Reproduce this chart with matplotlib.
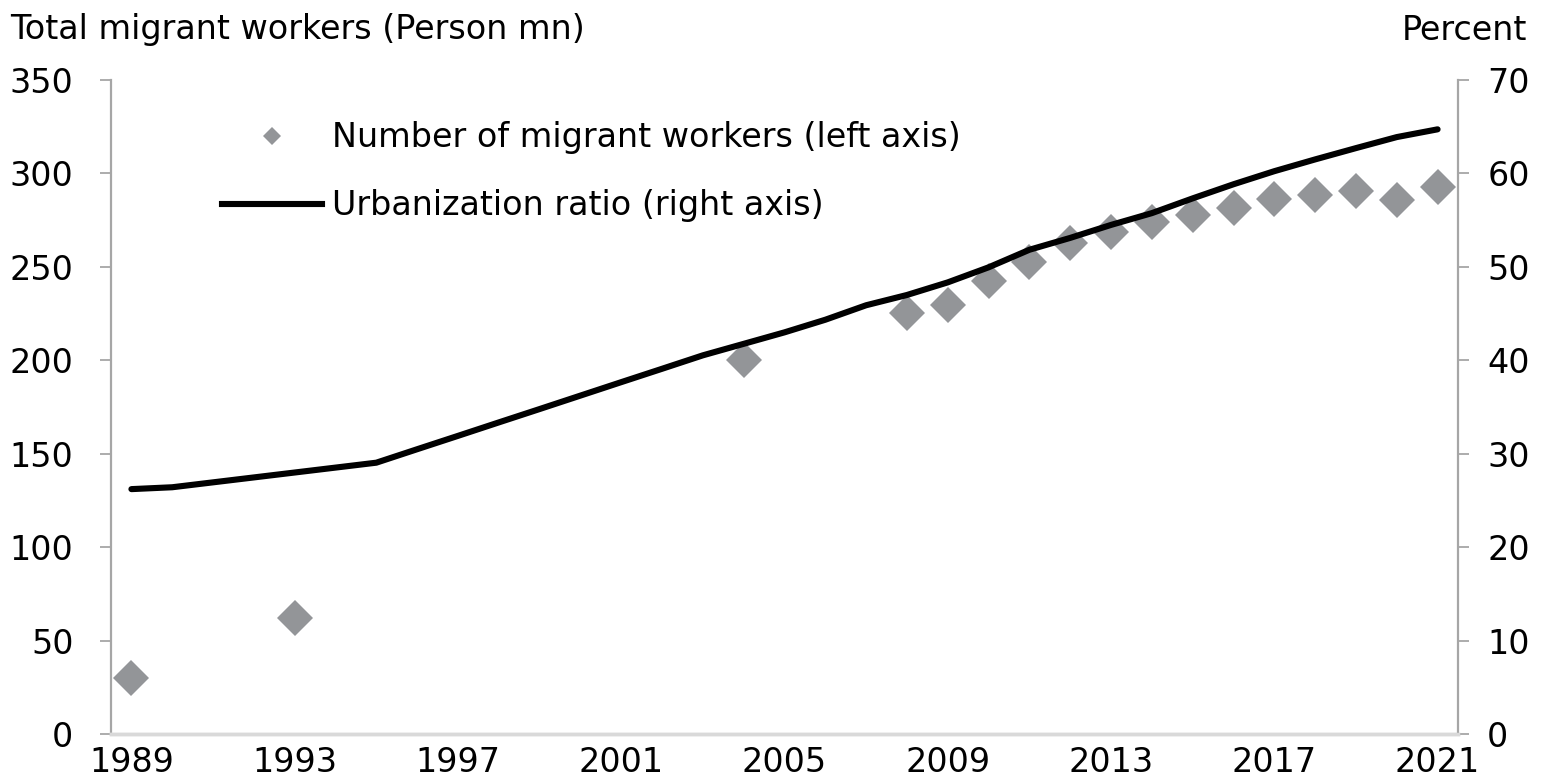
"""Migrant workers vs urbanization ratio, dual axis chart"""

import matplotlib
matplotlib.use("Agg")
import matplotlib.pyplot as plt
from matplotlib.lines import Line2D

plt.rcParams["font.family"] = ["DejaVu Sans"]

# migrant workers (left axis, person mn)
worker_years = [1989, 1993, 2004, 2008, 2009, 2010, 2011, 2012, 2013,
                2014, 2015, 2016, 2017, 2018, 2019, 2020, 2021]
workers = [30, 62, 200, 225.4, 229.8, 242.2, 252.8, 262.6, 268.9,
           274.0, 277.5, 281.7, 286.5, 288.4, 290.8, 285.6, 292.5]

# urbanization ratio (right axis, percent)
urban_years = [1989, 1990, 1995, 1996, 1997, 1998, 1999, 2000, 2001, 2002,
               2003, 2004, 2005, 2006, 2007, 2008, 2009, 2010, 2011, 2012,
               2013, 2014, 2015, 2016, 2017, 2018, 2019, 2020, 2021]
urban_ratio = [26.21, 26.41, 29.04, 30.48, 31.91, 33.35, 34.78, 36.22, 37.66,
               39.09, 40.53, 41.76, 42.99, 44.34, 45.89, 46.99, 48.34, 49.95,
               51.83, 53.10, 54.49, 55.75, 57.33, 58.84, 60.24, 61.50, 62.71,
               63.89, 64.72]

x_ticks = [1989, 1993, 1997, 2001, 2005, 2009, 2013, 2017, 2021]
left_ticks = [0, 50, 100, 150, 200, 250, 300, 350]
right_ticks = [0, 10, 20, 30, 40, 50, 60, 70]

GRAY_MARK = "#939598"
AXIS_GRAY = "#a6a6a6"
FS = 24

fig = plt.figure(figsize=(15.41, 7.84), dpi=100)
ax = fig.add_axes([111 / 1541, 1 - 734 / 784, (1458 - 111) / 1541, (734 - 80) / 784])
ax2 = ax.twinx()

# markers on left axis
ax.plot(worker_years, workers, linestyle="none", marker="D", markersize=18,
        color=GRAY_MARK, markeredgewidth=0, zorder=3)
ax.set_xlim(1988.5, 2021.5)
ax.set_ylim(0, 350)
ax.set_yticks(left_ticks)
ax.set_xticks(x_ticks)

# line on right axis
ax2.plot(urban_years, urban_ratio, color="black", linewidth=4.4,
         solid_capstyle="round", solid_joinstyle="round")
ax2.set_ylim(0, 70)
ax2.set_yticks(right_ticks)

# spines and ticks
for a in (ax, ax2):
    a.spines["top"].set_visible(False)
    a.spines["left"].set_color(AXIS_GRAY)
    a.spines["right"].set_color(AXIS_GRAY)
    a.spines["left"].set_linewidth(1.6)
    a.spines["right"].set_linewidth(1.6)
    a.spines["bottom"].set_color("#d9d9d9")
    a.spines["bottom"].set_linewidth(2.5)
ax2.spines["left"].set_visible(False)
ax.spines["right"].set_visible(False)

ax.tick_params(axis="y", direction="out", length=8, width=1.3, color=AXIS_GRAY,
               labelsize=FS, pad=19)
ax2.tick_params(axis="y", direction="out", length=8, width=1.3, color=AXIS_GRAY,
                labelsize=FS, pad=13)
ax.tick_params(axis="x", length=0, labelsize=FS, pad=9)

# axis titles
fig.text(10 / 1541, 1 - 30 / 784, "Total migrant workers (Person mn)",
         fontsize=FS, ha="left", va="center")
fig.text(1527 / 1541, 1 - 30 / 784, "Percent", fontsize=FS, ha="right", va="center")

# legend
handles = [
    Line2D([], [], linestyle="none", marker="D", markersize=9, color=GRAY_MARK,
           markeredgewidth=0),
    Line2D([], [], color="black", linewidth=4.4),
]
labels = ["Number of migrant workers (left axis)", "Urbanization ratio (right axis)"]
fig.legend(handles, labels, loc="center left", bbox_to_anchor=(222 / 1541, 1 - 172 / 784),
           frameon=False, fontsize=FS, borderpad=0, borderaxespad=0, handlelength=3.0,
           handletextpad=0.3, labelspacing=1.05)

fig.savefig("out.png", dpi=100)
